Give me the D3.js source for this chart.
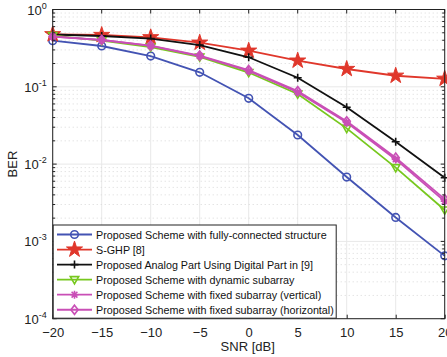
<!DOCTYPE html>
<html><head><meta charset="utf-8">
<script src="https://cdn.jsdelivr.net/npm/d3@7"></script>
<style>body{margin:0;background:#fff;}svg{display:block;font-family:"Liberation Sans",Arial,sans-serif;}</style>
</head><body>
<script>
const snr = [-20,-15,-10,-5,0,5,10,15,20];
const fullyConnected = [0.395,0.337,0.250,0.154,0.071,0.0238,0.0068,0.00204,0.00065];
const sghp = [0.478,0.468,0.437,0.372,0.293,0.218,0.170,0.139,0.127];
const analogDigital = [0.475,0.454,0.421,0.347,0.241,0.131,0.0543,0.0195,0.00667];
const dynamicSub = [0.46,0.395,0.327,0.243,0.153,0.0807,0.029,0.009,0.00255];
const fixedVertical = [0.445,0.403,0.338,0.250,0.161,0.085,0.0345,0.0115,0.0033];
const fixedHorizontal = [0.447,0.405,0.342,0.254,0.165,0.088,0.0358,0.0121,0.00352];
const xTicks = [-20,-15,-10,-5,0,5,10,15,20];
const yTickExps = [0,-1,-2,-3,-4];
const xLabel = "SNR [dB]", yLabel = "BER";

const seriesList = [
  {name:"Proposed Scheme with fully-connected structure", vals:fullyConnected, color:"#4353b3", marker:"circle"},
  {name:"S-GHP [8]", vals:sghp, color:"#e0372b", marker:"star"},
  {name:"Proposed Analog Part Using Digital Part in [9]", vals:analogDigital, color:"#111111", marker:"plus"},
  {name:"Proposed Scheme with dynamic subarray", vals:dynamicSub, color:"#77c81e", marker:"tri"},
  {name:"Proposed Scheme with fixed subarray (vertical)", vals:fixedVertical, color:"#c94fb6", marker:"asterisk"},
  {name:"Proposed Scheme with fixed subarray (horizontal)", vals:fixedHorizontal, color:"#c94fb6", marker:"diamond"}
];

const W=447,H=357, L=52.7, R=444.7, T=9.5, B=318.7;
const svg=d3.select("body").append("svg").attr("width",W).attr("height",H);
const x=d3.scaleLinear().domain([-20,20]).range([L,R]);
const y=d3.scaleLog().domain([1e-4,1]).range([B,T]);

// grids
const g=svg.append("g");
xTicks.forEach(t=>{ g.append("line").attr("x1",x(t)).attr("x2",x(t)).attr("y1",T).attr("y2",B).attr("stroke","#e8e8e8").attr("stroke-width",1); });
for(let e=-4;e<0;e++){ for(let m=2;m<=9;m++){ const v=m*Math.pow(10,e);
  g.append("line").attr("x1",L).attr("x2",R).attr("y1",y(v)).attr("y2",y(v)).attr("stroke","#d8d8d8").attr("stroke-width",1).attr("stroke-dasharray","1,3"); } }
yTickExps.forEach(e=>{ g.append("line").attr("x1",L).attr("x2",R).attr("y1",y(Math.pow(10,e))).attr("y2",y(Math.pow(10,e))).attr("stroke","#e8e8e8"); });

// lines
const line=d3.line().x((d,i)=>x(snr[i])).y(d=>y(d));
function drawMarker(sel,type,cx,cy,color){
  const s=sel.append("g").attr("transform",`translate(${cx},${cy})`);
  if(type==="circle") s.append("circle").attr("r",3.8).attr("fill","none").attr("stroke",color).attr("stroke-width",1.6);
  else if(type==="star") s.append("path").attr("d",d3.symbol(d3.symbolStar,80)()).attr("fill",color).attr("stroke",color).attr("stroke-width",1);
  else if(type==="plus") s.append("path").attr("d","M-4,0H4M0,-4V4").attr("stroke",color).attr("stroke-width",1.6);
  else if(type==="tri") s.append("path").attr("d","M-4.2,-3L4.2,-3L0,4.2Z").attr("fill","none").attr("stroke",color).attr("stroke-width",1.6);
  else if(type==="asterisk") s.append("path").attr("d","M-4,0H4M0,-4V4M-2.9,-2.9L2.9,2.9M-2.9,2.9L2.9,-2.9").attr("stroke",color).attr("stroke-width",1.6);
  else if(type==="diamond") s.append("path").attr("d","M0,-4.6L3.6,0L0,4.6L-3.6,0Z").attr("fill","none").attr("stroke",color).attr("stroke-width",1.6);
}
const plot=svg.append("g");
seriesList.forEach(s=>{
  plot.append("path").attr("d",line(s.vals)).attr("fill","none").attr("stroke",s.color).attr("stroke-width",1.8);
  s.vals.forEach((v,i)=>drawMarker(plot,s.marker,x(snr[i]),y(v),s.color));
});

// axes box
svg.append("rect").attr("x",L).attr("y",T).attr("width",R-L).attr("height",B-T).attr("fill","none").attr("stroke","#222").attr("stroke-width",1);
const xAxis=d3.axisBottom(x).tickValues(xTicks).tickSizeInner(-4).tickSizeOuter(0).tickPadding(9);
const xa=svg.append("g").attr("transform",`translate(0,${B})`).call(xAxis);
xa.select(".domain").remove();
xa.selectAll("text").attr("font-size",13).attr("fill","#222").attr("font-family","Liberation Sans, Arial, sans-serif");
xa.selectAll("line").attr("stroke","#222");
// top ticks
xTicks.forEach(t=>svg.append("line").attr("x1",x(t)).attr("x2",x(t)).attr("y1",T).attr("y2",T+4).attr("stroke","#222"));
// y ticks left/right, major & minor
for(let e=-4;e<=0;e++){ for(let m=1;m<=9;m++){ const v=m*Math.pow(10,e); if(v>1) break;
  const len=m===1?4:2.5;
  svg.append("line").attr("x1",L).attr("x2",L+len).attr("y1",y(v)).attr("y2",y(v)).attr("stroke","#222");
  svg.append("line").attr("x1",R-len).attr("x2",R).attr("y1",y(v)).attr("y2",y(v)).attr("stroke","#222");
}}
yTickExps.forEach(e=>{
  const t=svg.append("text").attr("x",L-6).attr("y",y(Math.pow(10,e))+5).attr("text-anchor","end").attr("font-size",13).attr("fill","#222");
  t.append("tspan").text("10");
  t.append("tspan").attr("dy",-6).attr("font-size",9).text(String(e));
});
svg.append("text").attr("x",(L+R)/2-1).attr("y",351).attr("text-anchor","middle").attr("font-size",13).attr("fill","#222").text(xLabel);
svg.append("text").attr("transform",`translate(17,${(T+B)/2}) rotate(-90)`).attr("text-anchor","middle").attr("font-size",13).attr("fill","#222").text(yLabel);

// legend
const lx=L+0.5, ly=225, lw=283, lh=B-ly;
const leg=svg.append("g");
leg.append("rect").attr("x",lx).attr("y",ly).attr("width",lw).attr("height",lh-0.5).attr("fill","#fff").attr("stroke","#222").attr("stroke-width",1);
seriesList.forEach((s,i)=>{
  const yy=ly+9.5+i*15.05;
  leg.append("line").attr("x1",57).attr("x2",92).attr("y1",yy).attr("y2",yy).attr("stroke",s.color).attr("stroke-width",1.8);
  drawMarker(leg,s.marker,74.5,yy,s.color);
  leg.append("text").attr("x",96).attr("y",yy+4).attr("font-size",10.75).attr("fill","#111").text(s.name);
});
</script>
</body></html>
